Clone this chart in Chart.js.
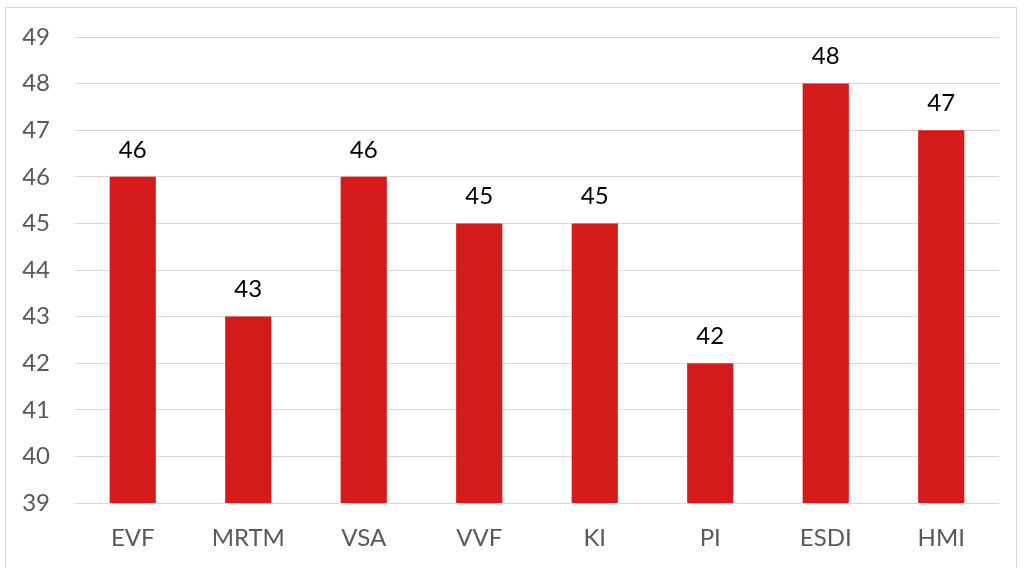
<!DOCTYPE html>
<html>
<head>
<meta charset="utf-8">
<script src="https://cdn.jsdelivr.net/npm/chart.js@4"></script>
<style>
  html, body { margin: 0; padding: 0; background: #fff; }
  #wrap { position: relative; width: 1024px; height: 568px; }
  #frame { position: absolute; left: 5px; top: 7px; width: 1012px; height: 570px; border: 1px solid #d9d9d9; box-sizing: border-box; pointer-events: none; }
</style>
</head>
<body>
<div id="wrap">
  <canvas id="chart" width="1024" height="568"></canvas>
  <div id="frame"></div>
</div>
<script>
const categories = ['EVF', 'MRTM', 'VSA', 'VVF', 'KI', 'PI', 'ESDI', 'HMI'];
const values = [46, 43, 46, 45, 45, 42, 48, 47];
const yMin = 39;
const yMax = 49;

// labels above each bar
const barLabels = {
    id: 'barLabels',
    afterDatasetsDraw(chart) {
        const ctx = chart.ctx;
        const meta = chart.getDatasetMeta(0);
        ctx.save();
        ctx.font = '24px Lato, "Open Sans", sans-serif';
        ctx.fillStyle = '#000';
        ctx.textAlign = 'center';
        ctx.textBaseline = 'middle';
        meta.data.forEach(function(bar, i){
            ctx.fillText(values[i], bar.x, bar.y - 27);
        });
        ctx.restore();
    }
};

new Chart(document.getElementById('chart'), {
    type: 'bar',
    data: {
        labels: categories,
        datasets: [{
            data: values,
            backgroundColor: '#d41a1a',
            barPercentage: 0.4,
            categoryPercentage: 1.0
        }]
    },
    options: {
        responsive: false,
        animation: false,
        layout: { padding: { top: 37, right: 25, left: 0, bottom: 0 } },
        plugins: {
            legend: { display: false },
            tooltip: { enabled: false }
        },
        scales: {
            x: {
                grid: { display: false, drawTicks: false },
                border: { display: false },
                ticks: {
                    color: '#595959',
                    font: { family: 'Lato, "Open Sans", sans-serif', size: 24 },
                    padding: 21
                },
                afterFit: function(s){ s.height = 65; }
            },
            y: {
                min: yMin,
                max: yMax,
                grid: { color: '#d9d9d9', lineWidth: 1, drawTicks: false },
                border: { display: false },
                ticks: {
                    stepSize: 1,
                    color: '#595959',
                    font: { family: 'Lato, "Open Sans", sans-serif', size: 24, lineHeight: 1.0 },
                    padding: 25
                },
                afterFit: function(s){ s.width = 75; }
            }
        }
    },
    plugins: [barLabels]
});
</script>
</body>
</html>
